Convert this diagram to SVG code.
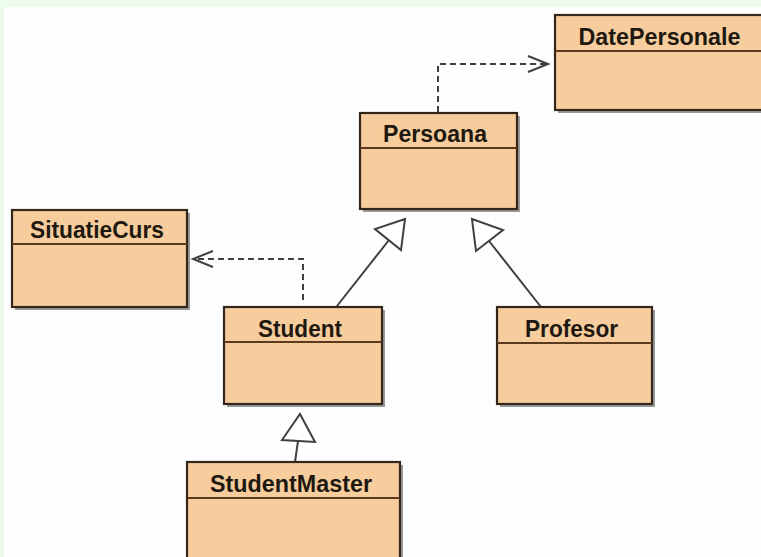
<svg xmlns="http://www.w3.org/2000/svg" width="761" height="557" viewBox="0 0 761 557">
<style>
.box{fill:#f7cd9d;stroke:#33261a;stroke-width:2.2}
.sh{fill:#555;opacity:0.6}
.div{stroke:#5a3a1e;stroke-width:2}
.lbl{font-family:"Liberation Sans",Arial,sans-serif;font-weight:bold;font-size:23px;fill:#1e1810;text-anchor:middle}
.ln{fill:none;stroke:#404040;stroke-width:2}
.dash{fill:none;stroke:#404040;stroke-width:2;stroke-dasharray:6,4}
.tri{fill:#fff;stroke:#404040;stroke-width:2;stroke-linejoin:miter}
</style>
<rect x="0" y="0" width="761" height="557" fill="#ebfdea"/>
<rect x="4" y="7" width="757" height="550" fill="#fefefe"/>

<g id="connectors">
  <polyline class="dash" points="438,112 438,64 547,64"/>
  <polyline class="ln" points="528,56 548,64 528,72"/>
  <polyline class="dash" points="303,300 303,259 195,259"/>
  <polyline class="ln" points="213,251 193,259 213,267"/>
  <line class="ln" x1="337" y1="306" x2="389" y2="240"/>
  <polygon class="tri" points="405,219 401,250 375,229"/>
  <line class="ln" x1="541" y1="307" x2="489" y2="241"/>
  <polygon class="tri" points="472,219 503,230 476,251"/>
  <line class="ln" x1="295" y1="462" x2="298" y2="441"/>
  <polygon class="tri" points="300,414 315,442 282,440"/>
</g>

<g id="DatePersonale">
  <rect class="sh" x="558" y="18" width="210" height="95"/>
  <rect class="box" x="555" y="15" width="210" height="95"/>
  <line class="div" x1="555" y1="51" x2="765" y2="51"/>
  <text class="lbl" x="659.5" y="45" textLength="162" lengthAdjust="spacingAndGlyphs">DatePersonale</text>
</g>

<g id="Persoana">
  <rect class="sh" x="363" y="116" width="157" height="96"/>
  <rect class="box" x="360" y="113" width="157" height="96"/>
  <line class="div" x1="360" y1="148" x2="517" y2="148"/>
  <text class="lbl" x="435" y="142" textLength="104" lengthAdjust="spacingAndGlyphs">Persoana</text>
</g>

<g id="SituatieCurs">
  <rect class="sh" x="15" y="213" width="175" height="97"/>
  <rect class="box" x="12" y="210" width="175" height="97"/>
  <line class="div" x1="12" y1="244" x2="187" y2="244"/>
  <text class="lbl" x="97" y="238" textLength="134" lengthAdjust="spacingAndGlyphs">SituatieCurs</text>
</g>

<g id="Student">
  <rect class="sh" x="227" y="310" width="158" height="97"/>
  <rect class="box" x="224" y="307" width="158" height="97"/>
  <line class="div" x1="224" y1="342" x2="382" y2="342"/>
  <text class="lbl" x="300" y="337" textLength="84" lengthAdjust="spacingAndGlyphs">Student</text>
</g>

<g id="Profesor">
  <rect class="sh" x="500" y="310" width="155" height="97"/>
  <rect class="box" x="497" y="307" width="155" height="97"/>
  <line class="div" x1="497" y1="343" x2="652" y2="343"/>
  <text class="lbl" x="571.5" y="337" textLength="93" lengthAdjust="spacingAndGlyphs">Profesor</text>
</g>

<g id="StudentMaster">
  <rect class="sh" x="190" y="465" width="213" height="100"/>
  <rect class="box" x="187" y="462" width="213" height="100"/>
  <line class="div" x1="187" y1="498" x2="400" y2="498"/>
  <text class="lbl" x="291" y="492" textLength="162" lengthAdjust="spacingAndGlyphs">StudentMaster</text>
</g>
</svg>
